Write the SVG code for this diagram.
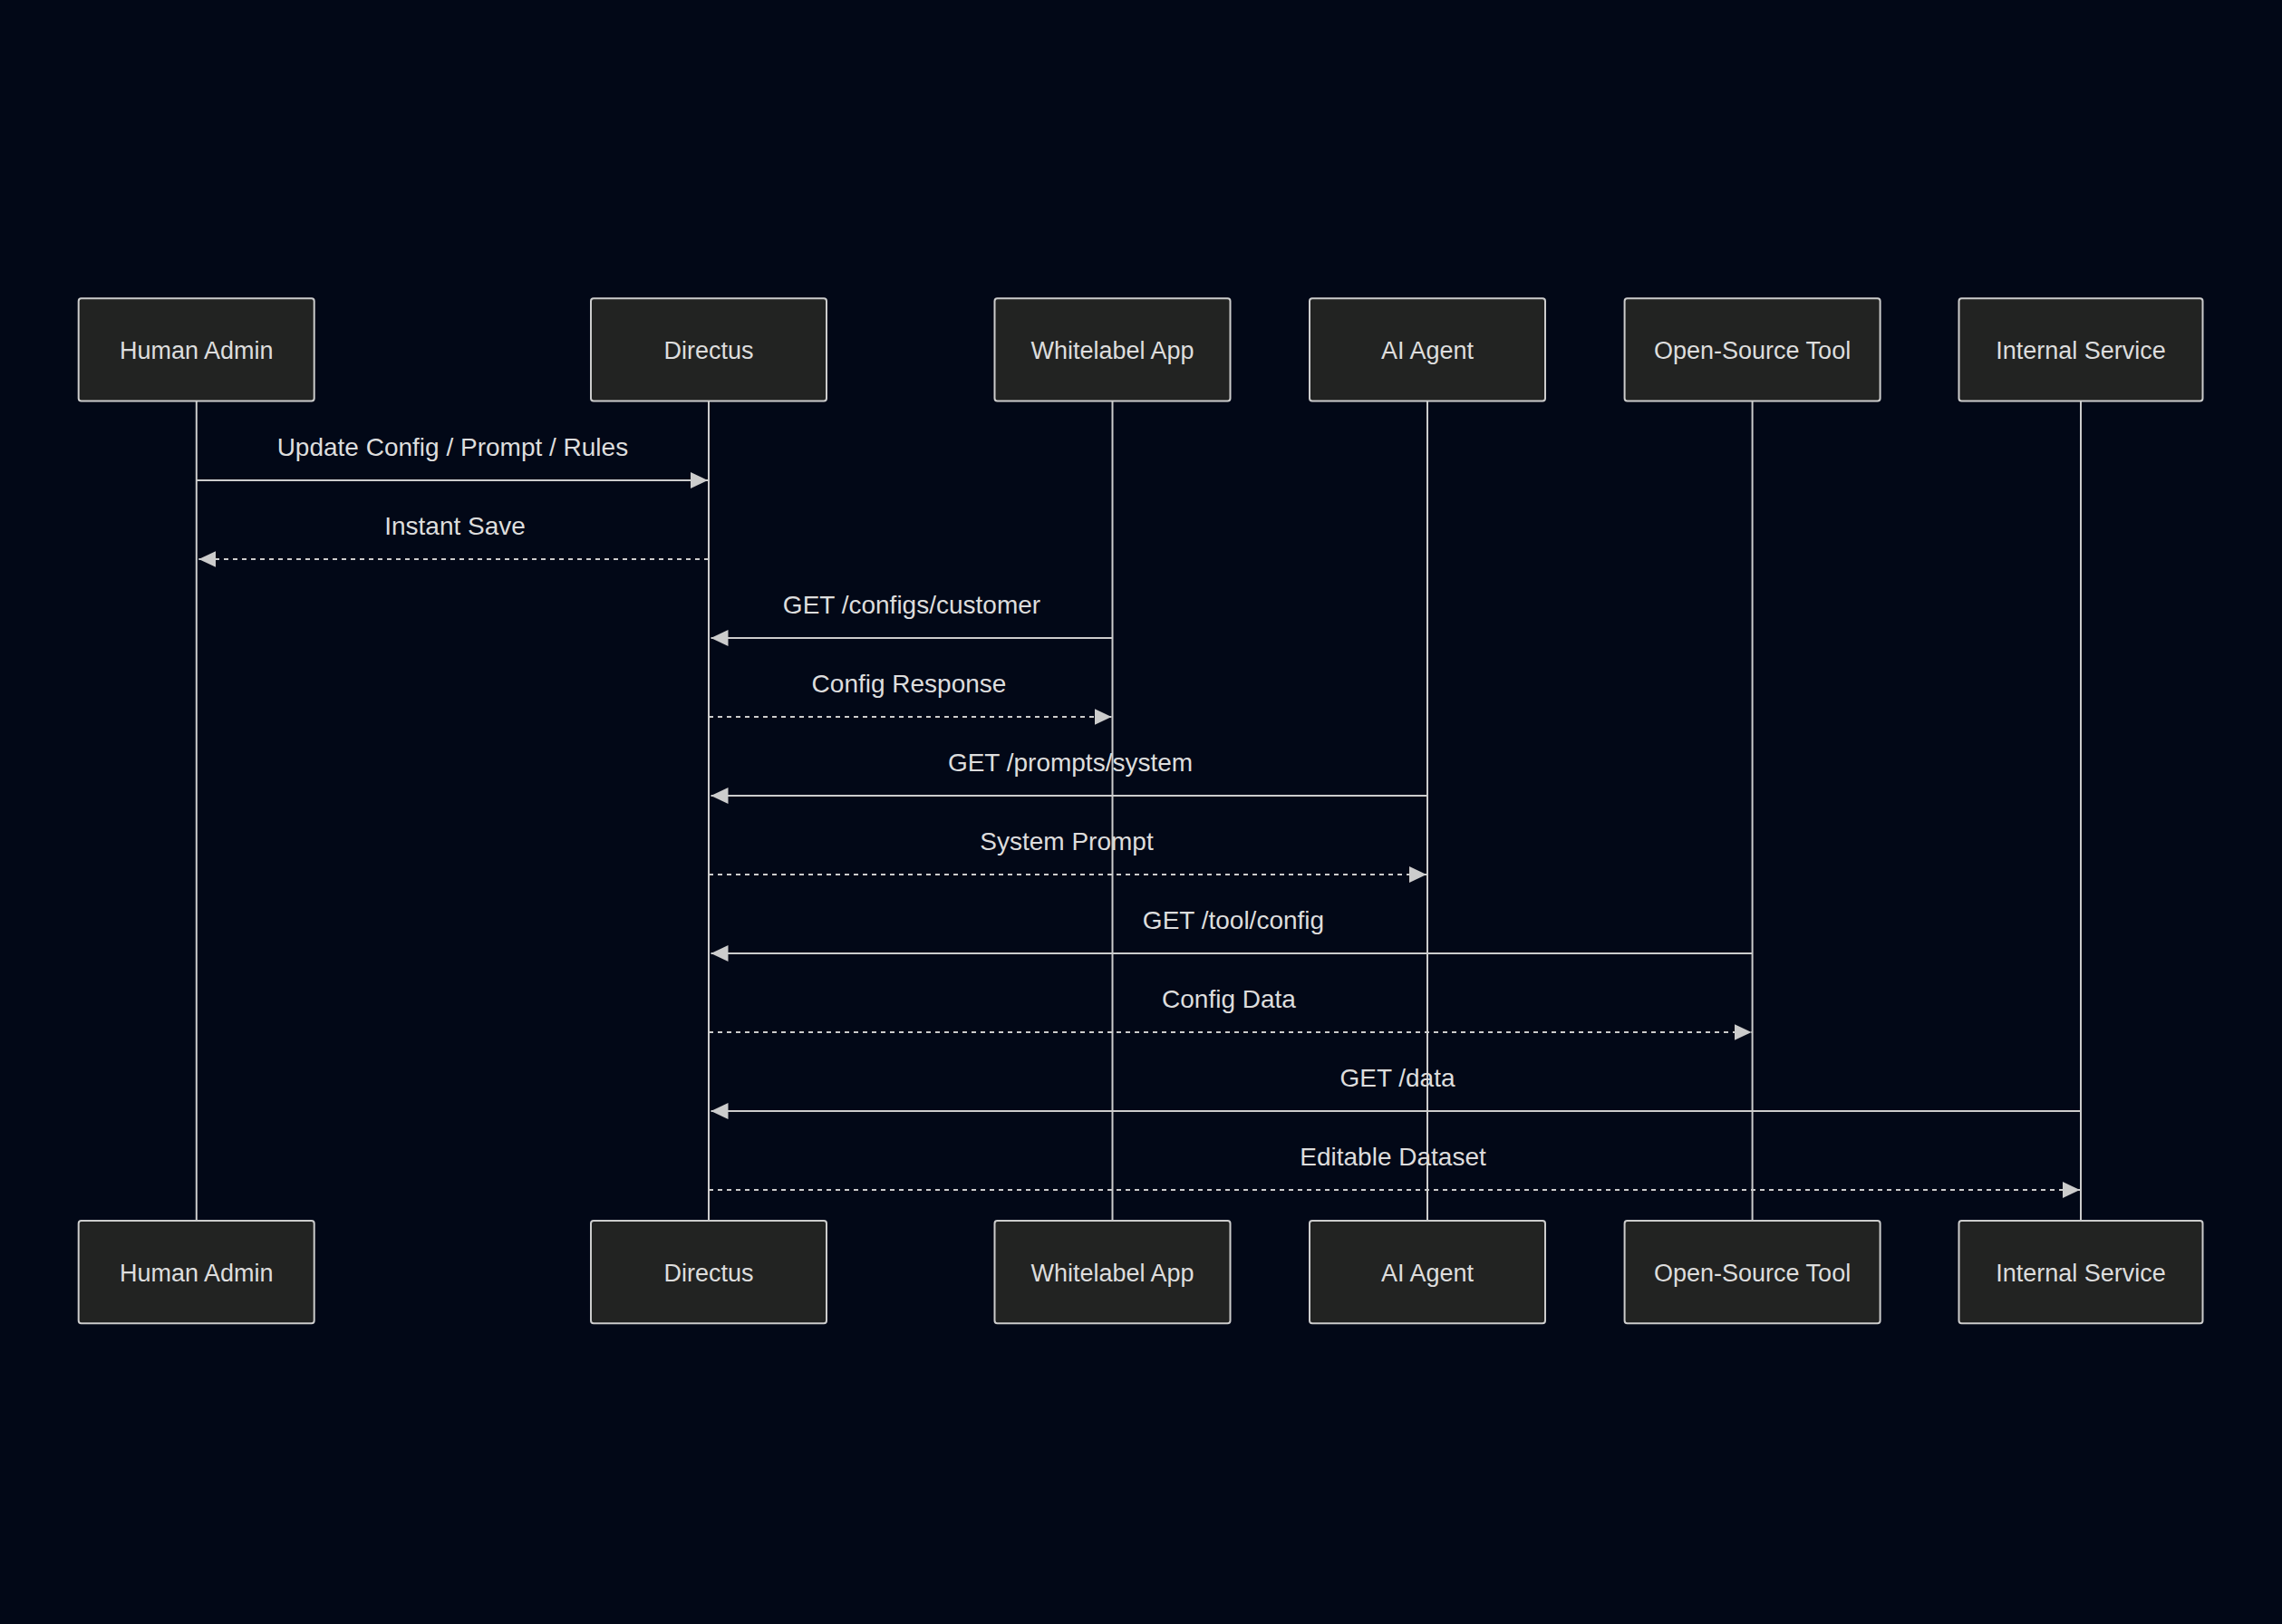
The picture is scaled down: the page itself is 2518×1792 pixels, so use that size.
<svg xmlns="http://www.w3.org/2000/svg" width="2518" height="1792" viewBox="0 0 2518 1792">
<defs>
<style>
.bg{fill:#020817}
.actor{fill:#222322;stroke:#cccccc;stroke-width:2}
.atext{font-family:"Liberation Sans",Arial,sans-serif;font-size:27px;fill:#dddddd;text-anchor:middle}
.life{stroke:#cccccc;stroke-width:2;fill:none}
.msg{stroke:#cccccc;stroke-width:2;fill:none}
.dash{stroke-dasharray:5,5}
.mtext{font-family:"Liberation Sans",Arial,sans-serif;font-size:28px;fill:#dddddd;text-anchor:middle}
</style>
<marker id="ah" viewBox="0 0 19 18" refX="19" refY="9" markerWidth="19" markerHeight="18" markerUnits="userSpaceOnUse" orient="auto">
<path d="M0,0 L19,9 L0,18 Z" fill="#cccccc"/>
</marker>
</defs>
<rect class="bg" x="0" y="0" width="2518" height="1792"/>

<g id="lifelines">
<line class="life" x1="216.8" y1="442.5" x2="216.8" y2="1347"/>
<line class="life" x1="782" y1="442.5" x2="782" y2="1347"/>
<line class="life" x1="1227.5" y1="442.5" x2="1227.5" y2="1347"/>
<line class="life" x1="1575" y1="442.5" x2="1575" y2="1347"/>
<line class="life" x1="1933.6" y1="442.5" x2="1933.6" y2="1347"/>
<line class="life" x1="2296" y1="442.5" x2="2296" y2="1347"/>
</g>

<g id="actor-human-admin">
<rect class="actor" x="86.7" y="329.3" width="260" height="113.2" rx="3"/>
<text class="atext" x="216.8" y="396">Human Admin</text>
<rect class="actor" x="86.7" y="1347" width="260" height="113.2" rx="3"/>
<text class="atext" x="216.8" y="1413.5">Human Admin</text>
</g>
<g id="actor-directus">
<rect class="actor" x="652" y="329.3" width="260" height="113.2" rx="3"/>
<text class="atext" x="782" y="396">Directus</text>
<rect class="actor" x="652" y="1347" width="260" height="113.2" rx="3"/>
<text class="atext" x="782" y="1413.5">Directus</text>
</g>
<g id="actor-whitelabel-app">
<rect class="actor" x="1097.5" y="329.3" width="260" height="113.2" rx="3"/>
<text class="atext" x="1227.5" y="396">Whitelabel App</text>
<rect class="actor" x="1097.5" y="1347" width="260" height="113.2" rx="3"/>
<text class="atext" x="1227.5" y="1413.5">Whitelabel App</text>
</g>
<g id="actor-ai-agent">
<rect class="actor" x="1445" y="329.3" width="260" height="113.2" rx="3"/>
<text class="atext" x="1575" y="396">AI Agent</text>
<rect class="actor" x="1445" y="1347" width="260" height="113.2" rx="3"/>
<text class="atext" x="1575" y="1413.5">AI Agent</text>
</g>
<g id="actor-open-source-tool">
<rect class="actor" x="1792.6" y="329.3" width="282" height="113.2" rx="3"/>
<text class="atext" x="1933.6" y="396">Open-Source Tool</text>
<rect class="actor" x="1792.6" y="1347" width="282" height="113.2" rx="3"/>
<text class="atext" x="1933.6" y="1413.5">Open-Source Tool</text>
</g>
<g id="actor-internal-service">
<rect class="actor" x="2161.5" y="329.3" width="269" height="113.2" rx="3"/>
<text class="atext" x="2296" y="396">Internal Service</text>
<rect class="actor" x="2161.5" y="1347" width="269" height="113.2" rx="3"/>
<text class="atext" x="2296" y="1413.5">Internal Service</text>
</g>

<g id="connectors">
<line class="msg" x1="216.8" y1="530" x2="781" y2="530" marker-end="url(#ah)"/>
<text class="mtext" x="499.4" y="503">Update Config / Prompt / Rules</text>

<line class="msg dash" x1="782" y1="617" x2="219.3" y2="617" marker-end="url(#ah)"/>
<text class="mtext" x="502" y="590">Instant Save</text>

<line class="msg" x1="1227.5" y1="704" x2="784.5" y2="704" marker-end="url(#ah)"/>
<text class="mtext" x="1006" y="677">GET /configs/customer</text>

<line class="msg dash" x1="782" y1="791" x2="1226.5" y2="791" marker-end="url(#ah)"/>
<text class="mtext" x="1003" y="764">Config Response</text>

<line class="msg" x1="1575" y1="878" x2="784.5" y2="878" marker-end="url(#ah)"/>
<text class="mtext" x="1181" y="851">GET /prompts/system</text>

<line class="msg dash" x1="782" y1="965" x2="1574" y2="965" marker-end="url(#ah)"/>
<text class="mtext" x="1177" y="938">System Prompt</text>

<line class="msg" x1="1933.6" y1="1052" x2="784.5" y2="1052" marker-end="url(#ah)"/>
<text class="mtext" x="1361" y="1025">GET /tool/config</text>

<line class="msg dash" x1="782" y1="1139" x2="1932.6" y2="1139" marker-end="url(#ah)"/>
<text class="mtext" x="1356" y="1112">Config Data</text>

<line class="msg" x1="2296" y1="1226" x2="784.5" y2="1226" marker-end="url(#ah)"/>
<text class="mtext" x="1542" y="1199">GET /data</text>

<line class="msg dash" x1="782" y1="1313" x2="2295" y2="1313" marker-end="url(#ah)"/>
<text class="mtext" x="1537" y="1286">Editable Dataset</text>
</g>
</svg>
